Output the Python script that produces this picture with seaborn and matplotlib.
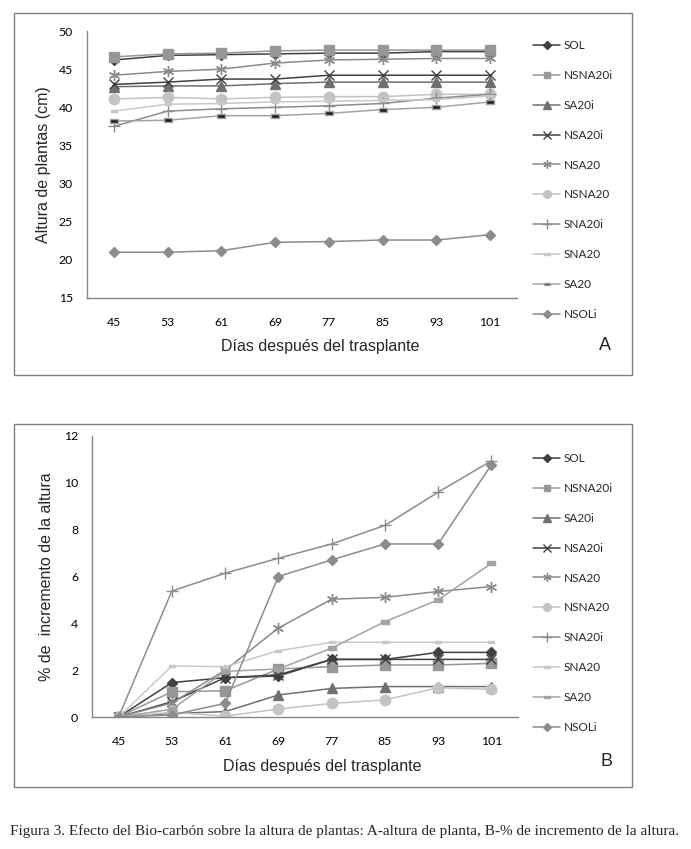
import pandas as pd
import matplotlib.pyplot as plt
import seaborn as sns
from matplotlib.patches import Rectangle

# days after transplant (x categories)
dias = ['45', '53', '61', '69', '77', '85', '93', '101']
tratamientos = ['SOL', 'NSNA20i', 'SA20i', 'NSA20i', 'NSA20',
                'NSNA20', 'SNA20i', 'SNA20', 'SA20', 'NSOLi']

# A - altura de plantas (cm)
alt_sol = [46.2, 46.8, 46.9, 47.0, 47.1, 47.1, 47.3, 47.3]
alt_nsna20i = [46.6, 47.0, 47.1, 47.4, 47.5, 47.5, 47.5, 47.5]
alt_sa20i = [42.7, 42.8, 42.8, 43.1, 43.3, 43.3, 43.3, 43.3]
alt_nsa20i = [43.0, 43.3, 43.7, 43.7, 44.2, 44.2, 44.2, 44.2]
alt_nsa20 = [44.2, 44.7, 45.0, 45.8, 46.2, 46.3, 46.4, 46.4]
alt_nsna20 = [41.1, 41.3, 41.1, 41.3, 41.4, 41.4, 41.7, 41.7]
alt_sna20i = [37.5, 39.5, 39.8, 40.0, 40.2, 40.5, 41.2, 41.7]
alt_sna20 = [39.5, 40.4, 40.5, 40.7, 40.8, 40.9, 41.0, 41.5]
alt_sa20 = [38.2, 38.3, 38.9, 38.9, 39.2, 39.7, 40.0, 40.7]
alt_nsoli = [21.0, 21.0, 21.2, 22.3, 22.4, 22.6, 22.6, 23.3]

# B - % de incremento de la altura
inc_sol = [0, 1.47, 1.68, 1.75, 2.46, 2.46, 2.76, 2.76]
inc_nsna20i = [0, 1.08, 1.12, 2.05, 2.15, 2.22, 2.22, 2.29]
inc_sa20i = [0, 0.15, 0.23, 0.94, 1.22, 1.30, 1.30, 1.30]
inc_nsa20i = [0, 0.65, 1.68, 1.80, 2.46, 2.46, 2.46, 2.46]
inc_nsa20 = [0, 0.60, 2.00, 3.80, 5.03, 5.11, 5.36, 5.57]
inc_nsna20 = [0, 0.20, 0.04, 0.34, 0.58, 0.73, 1.25, 1.18]
inc_sna20i = [0, 5.38, 6.14, 6.78, 7.39, 8.18, 9.60, 10.94]
inc_sna20 = [0, 2.18, 2.15, 2.83, 3.19, 3.19, 3.19, 3.19]
inc_sa20 = [0, 0.33, 1.95, 2.05, 2.94, 4.07, 5.00, 6.56]
inc_nsoli = [0, 0.09, 0.58, 6.00, 6.71, 7.39, 7.39, 10.77]

altura = [alt_sol, alt_nsna20i, alt_sa20i, alt_nsa20i, alt_nsa20,
          alt_nsna20, alt_sna20i, alt_sna20, alt_sa20, alt_nsoli]
incremento = [inc_sol, inc_nsna20i, inc_sa20i, inc_nsa20i, inc_nsa20,
              inc_nsna20, inc_sna20i, inc_sna20, inc_sa20, inc_nsoli]

dash = [(-1, -0.4), (1, -0.4), (1, 0.4), (-1, 0.4), (-1, -0.4)]
asterisk = (6, 2, 0)

# marker, color, markersize, facecolor (None = same as color)
estilos = {
    'SOL': ('D', '#404040', 5.5, None),
    'NSNA20i': ('s', '#979797', 6.5, None),
    'SA20i': ('^', '#6f6f6f', 7, None),
    'NSA20i': ('x', '#404040', 7, None),
    'NSA20': (asterisk, '#8a8a8a', 8, None),
    'NSNA20': ('o', '#c3c3c3', 7.5, None),
    'SNA20i': ('+', '#8c8c8c', 9, None),
    'SNA20': (dash, '#c8c8c8', 5, None),
    'SA20': (dash, '#a3a3a3', 6, '#1e1e1e'),
    'NSOLi': ('D', '#8c8c8c', 5.5, None),
}

sns.set_style('white')
plt.rcParams['font.family'] = ['Liberation Sans', 'DejaVu Sans']

W, H = 691, 849
fig = plt.figure(figsize=(W / 100, H / 100), dpi=100)


def fx(px):
    return px / W


def fy(py):
    return 1 - py / H


def panel(rect, series, ylim, yticks, ylabel, ylab_xy, xlab_xy, letra, letra_xy,
          leg_xy, dark_sa20):
    left, top, right, bottom = rect
    ax = fig.add_axes([fx(left), fy(bottom), fx(right - left), (bottom - top) / H])
    for nombre, vals in zip(tratamientos, series):
        mk, col, ms, fc = estilos[nombre]
        if nombre == 'SA20' and not dark_sa20:
            fc = None
        df = pd.DataFrame({'dia': dias, 'valor': vals})
        sns.lineplot(data=df, x='dia', y='valor', sort=False, ax=ax,
                     color=col, marker=mk, markersize=ms, linewidth=1.1,
                     markerfacecolor=fc if fc else col,
                     markeredgecolor=col, markeredgewidth=1.0,
                     label=nombre)
    ax.set_xlim(-0.5, 7.5)
    ax.set_ylim(*ylim)
    ax.set_yticks(yticks)
    ax.set_xlabel('')
    ax.set_ylabel('')
    for s in ['top', 'right']:
        ax.spines[s].set_visible(False)
    for s in ['left', 'bottom']:
        ax.spines[s].set_color('#868686')
        ax.spines[s].set_linewidth(1.0)
    ax.tick_params(length=0, labelsize=8.8, colors='black')
    ax.tick_params(axis='y', pad=10)
    ax.tick_params(axis='x', pad=14)
    for t in ax.get_xticklabels() + ax.get_yticklabels():
        t.set_family('Lato')
    fig.text(fx(ylab_xy[0]), fy(ylab_xy[1]), ylabel, rotation=90,
             ha='center', va='center', fontsize=11.5)
    fig.text(fx(xlab_xy[0]), fy(xlab_xy[1]), 'Días después del trasplante',
             ha='center', va='center', fontsize=11.5)
    fig.text(fx(letra_xy[0]), fy(letra_xy[1]), letra, ha='center',
             va='center', fontsize=13)
    ax.legend(loc='upper left', bbox_to_anchor=(fx(leg_xy[0]), fy(leg_xy[1])),
              bbox_transform=fig.transFigure, frameon=False,
              prop={'family': 'Lato', 'size': 8.5}, handlelength=2.3,
              handletextpad=0.3, labelspacing=1.6, borderpad=0,
              borderaxespad=0, markerscale=0.75)
    return ax


# panel A
fig.add_artist(Rectangle((fx(14), fy(375)), fx(632 - 14), (375 - 13) / H,
                         transform=fig.transFigure, fill=False,
                         edgecolor='#808080', linewidth=1.0))
panel((87, 31, 517, 298), altura, (15, 50), range(15, 51, 5),
      'Altura de plantas (cm)', (44, 165), (320, 347), 'A', (605, 346),
      (533, 40), True)

# panel B
fig.add_artist(Rectangle((fx(14), fy(787)), fx(632 - 14), (787 - 424) / H,
                         transform=fig.transFigure, fill=False,
                         edgecolor='#808080', linewidth=1.0))
panel((92, 436, 518, 717), incremento, (0, 12), range(0, 13, 2),
      '% de  incremento de la altura', (47, 577), (322, 767), 'B', (607, 762),
      (533, 453), False)

fig.text(fx(10), fy(831),
         'Figura 3. Efecto del Bio-carbón sobre la altura de plantas: '
         'A-altura de planta, B-% de incremento de la altura.',
         ha='left', va='center', fontsize=11, family='Liberation Serif')

fig.savefig('out.png', dpi=100)
